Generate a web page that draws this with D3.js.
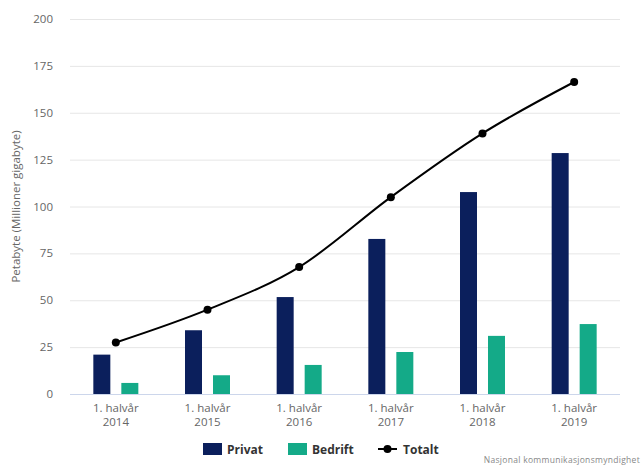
<!DOCTYPE html>
<html>
<head>
<meta charset="utf-8">
<script src="https://cdn.jsdelivr.net/npm/d3@7"></script>
<style>
  body { margin: 0; background: #fff; }
  text { font-family: "Open Sans", "DejaVu Sans", sans-serif; }
</style>
</head>
<body>
<div id="chart-area"></div>
<script>
// Data
var years = ["2014", "2015", "2016", "2017", "2018", "2019"];
var privat = [21, 34, 51.7, 82.7, 107.7, 128.5];
var bedrift = [5.9, 10, 15.5, 22.4, 31, 37.3];
var totalt = [27.5, 45, 67.7, 105, 139, 166.4];
var yTicks = [0, 25, 50, 75, 100, 125, 150, 175, 200];

var width = 643, height = 466;
var plotLeft = 70, plotRight = 620, plotTop = 19, plotBottom = 394;

var svg = d3.select("#chart-area")
    .append("svg")
    .attr("width", width)
    .attr("height", height);

// Scales
var x = d3.scaleBand()
    .domain(years)
    .range([plotLeft, plotRight]);

var y = d3.scaleLinear()
    .domain([0, 200])
    .range([plotBottom, plotTop]);

var barW = 17;
var offset = 14;
var cx = (d) => x(d) + x.bandwidth() / 2;

// Gridlines
svg.selectAll(".grid")
    .data(yTicks.filter(d => d > 0))
    .enter()
    .append("line")
    .attr("x1", plotLeft)
    .attr("x2", plotRight)
    .attr("y1", d => y(d) + 0.5)
    .attr("y2", d => y(d) + 0.5)
    .attr("stroke", "#e6e6e6")
    .attr("stroke-width", 1);

// Y axis labels
svg.selectAll(".ylab")
    .data(yTicks)
    .enter()
    .append("text")
    .attr("x", 53)
    .attr("y", d => y(d) + 4)
    .attr("text-anchor", "end")
    .attr("font-size", 11.5)
    .attr("fill", "#666")
    .text(d => d);

svg.append("text")
    .attr("transform", "translate(20," + (plotTop + plotBottom) / 2 + ") rotate(-90)")
    .attr("text-anchor", "middle")
    .attr("font-size", 11.5)
    .attr("fill", "#666")
    .text("Petabyte (Millioner gigabyte)");

// Bars
svg.selectAll(".privat")
    .data(privat)
    .enter()
    .append("rect")
    .attr("x", (d, i) => cx(years[i]) - offset - barW / 2)
    .attr("y", d => y(d))
    .attr("width", barW)
    .attr("height", d => plotBottom - y(d))
    .attr("fill", "#0b1f5c");

svg.selectAll(".bedrift")
    .data(bedrift)
    .enter()
    .append("rect")
    .attr("x", (d, i) => cx(years[i]) + offset - barW / 2)
    .attr("y", d => y(d))
    .attr("width", barW)
    .attr("height", d => plotBottom - y(d))
    .attr("fill", "#14aa88");

// Baseline
svg.append("line")
    .attr("x1", plotLeft)
    .attr("x2", plotRight)
    .attr("y1", plotBottom + 0.5)
    .attr("y2", plotBottom + 0.5)
    .attr("stroke", "#ccd6eb")
    .attr("stroke-width", 1);

// X labels
var xl = svg.selectAll(".xlab")
    .data(years)
    .enter()
    .append("text")
    .attr("text-anchor", "middle")
    .attr("font-size", 11.5)
    .attr("fill", "#666");
xl.append("tspan")
    .attr("x", d => cx(d))
    .attr("y", 412)
    .text("1. halvår");
xl.append("tspan")
    .attr("x", d => cx(d))
    .attr("y", 426)
    .text(d => d);

// Totalt line
var line = d3.line()
    .x((d, i) => cx(years[i]))
    .y(d => y(d))
    .curve(d3.curveMonotoneX);

svg.append("path")
    .datum(totalt)
    .attr("d", line)
    .attr("fill", "none")
    .attr("stroke", "#000")
    .attr("stroke-width", 2);

svg.selectAll(".dot")
    .data(totalt)
    .enter()
    .append("circle")
    .attr("cx", (d, i) => cx(years[i]))
    .attr("cy", d => y(d))
    .attr("r", 4)
    .attr("fill", "#000");

// Legend
var ly = 449;
svg.append("rect").attr("x", 203).attr("y", ly - 6).attr("width", 19).attr("height", 12).attr("fill", "#0b1f5c");
svg.append("text").attr("x", 227).attr("y", ly + 4.5).attr("font-size", 12).attr("font-weight", "bold").attr("fill", "#333").text("Privat");
svg.append("rect").attr("x", 288).attr("y", ly - 6).attr("width", 19).attr("height", 12).attr("fill", "#14aa88");
svg.append("text").attr("x", 312).attr("y", ly + 4.5).attr("font-size", 12).attr("font-weight", "bold").attr("fill", "#333").text("Bedrift");
svg.append("line").attr("x1", 378).attr("x2", 397).attr("y1", ly).attr("y2", ly).attr("stroke", "#000").attr("stroke-width", 2);
svg.append("circle").attr("cx", 387.5).attr("cy", ly).attr("r", 4).attr("fill", "#000");
svg.append("text").attr("x", 403).attr("y", ly + 4.5).attr("font-size", 12).attr("font-weight", "bold").attr("fill", "#333").text("Totalt");

// Source
svg.append("text")
    .attr("x", 640)
    .attr("y", 463)
    .attr("text-anchor", "end")
    .attr("font-size", 8.5)
    .attr("fill", "#888")
    .attr("letter-spacing", 0.3)
    .text("Nasjonal kommunikasjonsmyndighet");
</script>
</body>
</html>
